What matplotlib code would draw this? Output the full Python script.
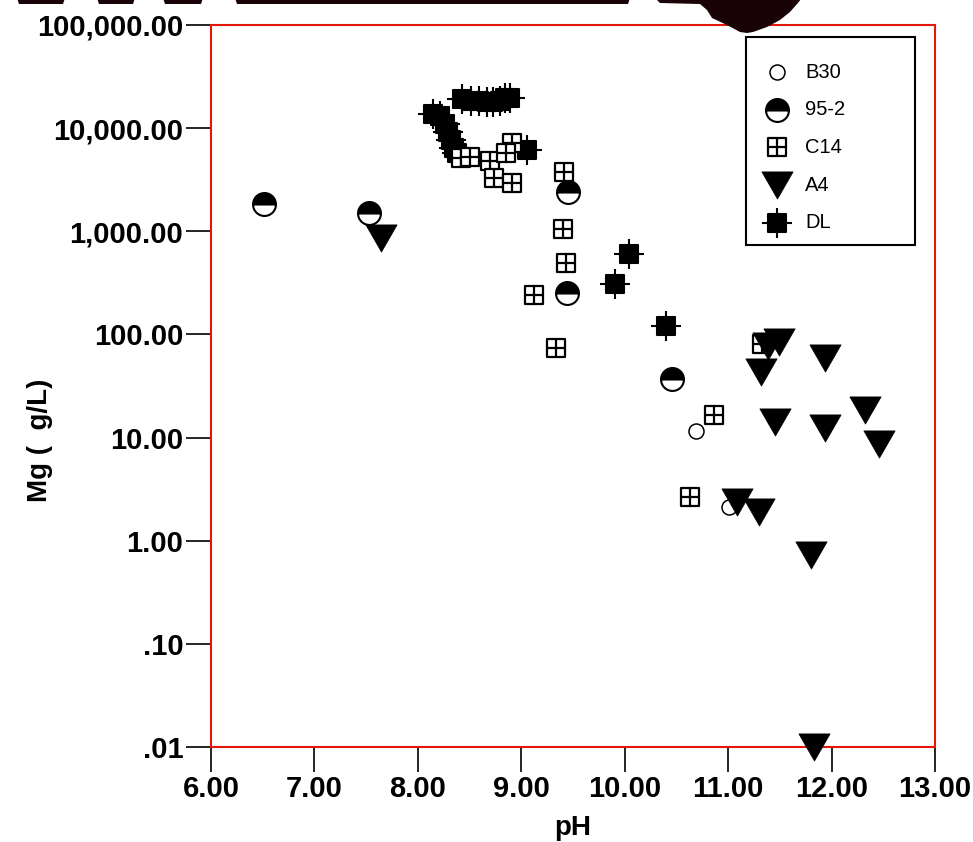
import numpy as np
import matplotlib
matplotlib.use("Agg")
import matplotlib.pyplot as plt
from matplotlib.path import Path
from matplotlib.patches import Polygon, Rectangle
from matplotlib.lines import Line2D

plt.rcParams["font.family"] = ["Liberation Sans", "DejaVu Sans"]

# ── data: Mg concentration vs pH per well ────────────────────────────────────
b30_ph = [10.69, 11.01]
b30_mg = [11.7, 2.14]

w952_ph = [6.51, 7.53, 9.45, 9.44, 10.46]
w952_mg = [1850, 1520, 2420, 254, 37.2]

c14_ph = [8.42, 8.50, 8.70, 8.74, 8.91, 8.91, 8.85, 9.41, 9.40, 9.43,
          9.12, 9.34, 10.86, 10.63, 11.33]
c14_mg = [5170, 5290, 4830, 3310, 2960, 7230, 5780, 3780, 1060, 496,
          243, 74, 16.7, 2.67, 80]

a4_ph = [7.64, 11.49, 11.39, 11.32, 11.94, 11.45, 11.94, 12.32, 12.46,
         11.09, 11.30, 11.80, 11.83]
a4_mg = [870, 85, 78, 43.5, 59.5, 14.3, 12.5, 18.6, 8.7,
         2.39, 1.91, 0.72, 0.01]

dl_ph = [8.15, 8.21, 8.26, 8.29, 8.32, 8.35, 8.38, 8.43, 8.51, 8.59, 8.67,
         8.73, 8.79, 8.84, 8.89, 9.06, 10.04, 9.91, 10.40]
dl_mg = [13800, 13200, 11000, 9240, 7730, 6450, 5800, 19300, 18500, 18500,
         18000, 18000, 18500, 19700, 19700, 6180, 606, 310, 122]

x_ticks = [6, 7, 8, 9, 10, 11, 12, 13]
x_labels = ["6.00", "7.00", "8.00", "9.00", "10.00", "11.00", "12.00", "13.00"]
y_ticks = [0.01, 0.1, 1, 10, 100, 1000, 10000, 100000]
y_labels = [".01", ".10", "1.00", "10.00", "100.00", "1,000.00",
            "10,000.00", "100,000.00"]

# ── marker shapes ────────────────────────────────────────────────────────────
M, L, C = Path.MOVETO, Path.LINETO, Path.CLOSEPOLY
BOX_CROSS = Path([(-1, -1), (1, -1), (1, 1), (-1, 1), (-1, -1),
                  (0, -1), (0, 1), (-1, 0), (1, 0)],
                 [M, L, L, L, C, M, L, M, L])
s = 0.57
SQ_PLUS = Path([(-s, -s), (s, -s), (s, s), (-s, s), (-s, -s),
                (0, -1), (0, 1), (-1, 0), (1, 0)],
               [M, L, L, L, C, M, L, M, L])
TRI_DOWN = Path([(-1, 0.87), (1, 0.87), (0, -0.87), (-1, 0.87)],
                [M, L, L, C])

styles = {
    "B30":  dict(marker="o", ms=10.8, mfc="white", mec="black", mew=1.1),
    "95-2": dict(marker="o", ms=16.5, mfc="black", mfcalt="white",
                 fillstyle="top", mec="black", mew=1.5),
    "C14":  dict(marker=BOX_CROSS, ms=13.5, mfc="white", mec="black", mew=1.6),
    "A4":   dict(marker=TRI_DOWN, ms=22.5, mfc="black", mec="black", mew=0.5),
    "DL":   dict(marker=SQ_PLUS, ms=21.5, mfc="black", mec="black", mew=1.5),
}

RED = "#e3170a"

fig = plt.figure(figsize=(9.73, 8.42), dpi=100)
ax = fig.add_axes([0.21686, 0.11283, 0.74409, 0.85748])

# draw order: later series sit on top
for name, xs, ys in [("B30", b30_ph, b30_mg), ("DL", dl_ph, dl_mg),
                     ("C14", c14_ph, c14_mg), ("95-2", w952_ph, w952_mg),
                     ("A4", a4_ph, a4_mg)]:
    ax.plot(xs, ys, ls="none", clip_on=False, zorder=3, **styles[name])

ax.set_yscale("log")
ax.set_xlim(6, 13)
ax.set_ylim(0.01, 100000)
ax.set_xticks(x_ticks)
ax.set_xticklabels(x_labels)
ax.set_yticks(y_ticks)
ax.set_yticklabels(y_labels)
ax.minorticks_off()
ax.tick_params(direction="out", length=18, width=1.2, color="black", pad=2,
               labelsize=21)
for lab in ax.get_xticklabels() + ax.get_yticklabels():
    lab.set_fontweight("bold")
for sp in ax.spines.values():
    sp.set_color(RED)
    sp.set_linewidth(1.5)

ax.set_xlabel("pH", fontsize=20, fontweight="bold", labelpad=9)
ax.set_ylabel("Mg (  g/L)", fontsize=20, fontweight="bold")
ax.yaxis.set_label_coords(-0.218, 0.425)

# legend box drawn by hand
ax.add_patch(Rectangle((0.739, 0.6953), 0.233, 0.2881, transform=ax.transAxes,
                       fc="white", ec="black", lw=1.5, zorder=4,
                       clip_on=False))
for i, name in enumerate(["B30", "95-2", "C14", "A4", "DL"]):
    yy = 0.9349 - i * 0.0522
    ax.add_line(Line2D([0.782], [yy], transform=ax.transAxes, ls="none",
                       zorder=5, clip_on=False, **styles[name]))
    ax.text(0.8204, yy, name, transform=ax.transAxes, fontsize=14.5,
            va="center", ha="left", zorder=5)

# dark band along the top edge
def px(pts):
    return [(x / 973, 1 - y / 842) for x, y in pts]

DARK = "#1a0306"
for x0, x1 in [(17, 65), (97, 135), (163, 203), (235, 630)]:
    fig.add_artist(Polygon(px([(x0, -2), (x1, -2), (x1 - 2, 4), (x0 + 2, 4)]),
                           closed=True, transform=fig.transFigure,
                           fc=DARK, ec="none"))
fig.add_artist(Polygon(px([(655, -2), (802, -2), (797, 4), (790, 12),
                           (780, 20), (767, 27), (753, 32), (747, 33),
                           (740, 32), (727, 25), (712, 18), (707, 10),
                           (700, 4), (660, 3)]),
                       closed=True, transform=fig.transFigure,
                       fc=DARK, ec="none"))

fig.savefig("out.png", dpi=100)
